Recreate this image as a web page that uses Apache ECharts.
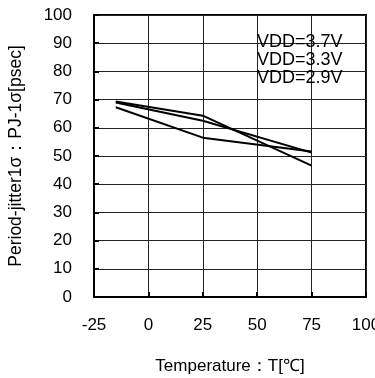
<!DOCTYPE html>
<html>
<head>
<meta charset="utf-8">
<script src="https://cdn.jsdelivr.net/npm/echarts@6/dist/echarts.min.js"></script>
<style>
  html, body { margin: 0; padding: 0; background: #fff; }
  #chart { width: 375px; height: 378px; }
</style>
</head>
<body>
<div id="chart"></div>
<script>
// temperatures where jitter was measured
let temps = [-15, 25, 75]
let seriesNames = ['VDD=3.7V', 'VDD=3.3V', 'VDD=2.9V']
let vdd37 = [69.3, 64.3, 46.6]
let vdd33 = [69.0, 62.5, 51.2]
let vdd29 = [67.3, 56.5, 51.6]
let xTicks = [-25, 0, 25, 50, 75, 100]

let font = '"Liberation Sans", Arial, sans-serif'

function pairs(vals) {
  return temps.map((t, i) => [t, vals[i]])
}

let myChart = echarts.init(document.getElementById('chart'))
myChart.setOption({
  animation: false,
  grid: {
    left: 94,
    right: 9,
    top: 15,
    bottom: 81,
    outerBoundsMode: 'none',
    containLabel: false,
    show: true,
    borderColor: '#000',
    borderWidth: 2
  },
  legend: {
    data: seriesNames,
    orient: 'vertical',
    left: 252,
    top: 33,
    icon: 'none',
    itemWidth: 0,
    itemHeight: 18,
    itemGap: 0,
    padding: 0,
    textStyle: {
      fontFamily: font,
      fontSize: 18,
      lineHeight: 18,
      color: '#000',
      padding: 0
    }
  },
  xAxis: {
    type: 'value',
    min: xTicks[0],
    max: xTicks[xTicks.length - 1],
    interval: 25,
    name: 'Temperature：T[℃]',
    nameLocation: 'middle',
    nameGap: 61,
    nameTextStyle: {
      fontFamily: font,
      fontSize: 17,
      color: '#000'
    },
    axisLabel: {
      margin: 20,
      fontFamily: font,
      fontSize: 17,
      color: '#000'
    },
    axisTick: {
      inside: true,
      length: 5,
      lineStyle: { color: '#000', width: 2 }
    },
    axisLine: {
      onZero: false,
      lineStyle: { color: '#000', width: 2 }
    },
    splitLine: {
      lineStyle: { color: '#222', width: 1 }
    }
  },
  yAxis: {
    type: 'value',
    min: 0,
    max: 100,
    interval: 10,
    name: 'Period-jitter1σ：PJ-1σ[psec]',
    nameLocation: 'middle',
    nameGap: 69,
    nameTextStyle: {
      fontFamily: font,
      fontSize: 17.5,
      color: '#000'
    },
    axisLabel: {
      margin: 22,
      fontFamily: font,
      fontSize: 17,
      color: '#000'
    },
    axisTick: {
      inside: true,
      length: 5,
      lineStyle: { color: '#000', width: 2 }
    },
    axisLine: {
      show: true,
      onZero: false,
      lineStyle: { color: '#000', width: 2 }
    },
    splitLine: {
      lineStyle: { color: '#222', width: 1 }
    }
  },
  series: [
    {
      name: seriesNames[0],
      type: 'line',
      data: pairs(vdd37),
      showSymbol: false,
      lineStyle: { color: '#000', width: 2 },
      itemStyle: { color: '#000' }
    },
    {
      name: seriesNames[1],
      type: 'line',
      data: pairs(vdd33),
      showSymbol: false,
      lineStyle: { color: '#000', width: 2 },
      itemStyle: { color: '#000' }
    },
    {
      name: seriesNames[2],
      type: 'line',
      data: pairs(vdd29),
      showSymbol: false,
      lineStyle: { color: '#000', width: 2 },
      itemStyle: { color: '#000' }
    }
  ]
})
</script>
</body>
</html>
